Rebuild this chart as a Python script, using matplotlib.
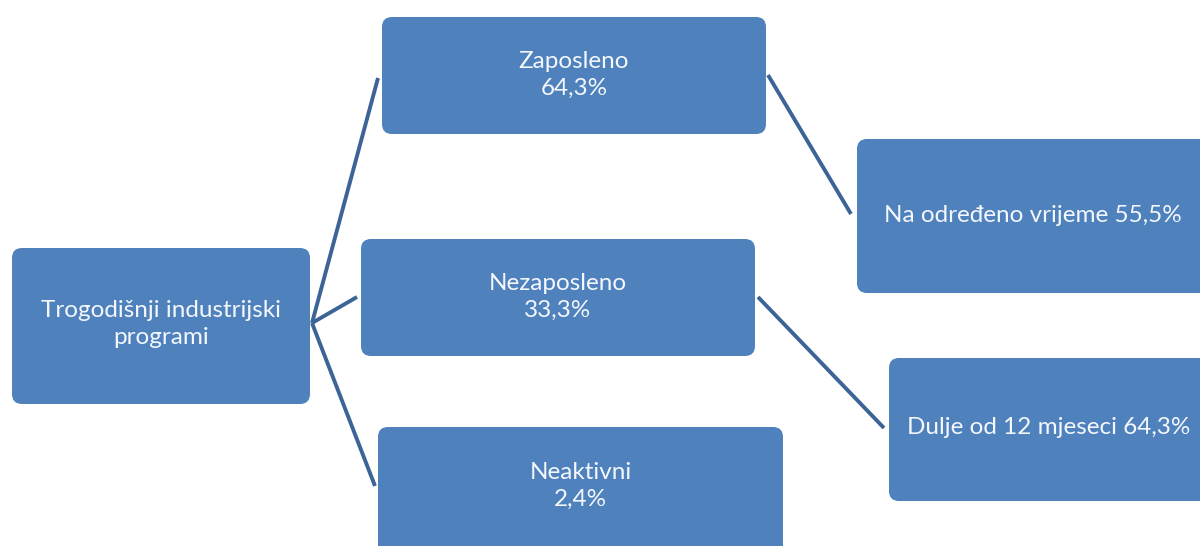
import matplotlib
matplotlib.use("Agg")
import matplotlib.pyplot as plt
from matplotlib.patches import FancyBboxPatch

root_label = "Trogodišnji industrijski\nprogrami"
status_labels = ["Zaposleno", "Nezaposleno", "Neaktivni"]
status_values = [64.3, 33.3, 2.4]
detail_labels = ["Na određeno vrijeme", "Dulje od 12 mjeseci"]
detail_values = [55.5, 64.3]
detail_parent = [0, 1]

def fmt(v):
    return f"{v:.1f}".replace(".", ",") + "%"

plt.rcParams['font.family'] = ['Lato', 'DejaVu Sans']

W, H = 1200, 546
fig = plt.figure(figsize=(12, 5.46), dpi=100)
ax = fig.add_axes([0, 0, 1, 1])
ax.set_xlim(0, W)
ax.set_ylim(H, 0)
ax.axis('off')

BOX = "#4F81BD"
LINE = "#3C6496"
TXT = "#F4F7FC"
FS = 17.5
LS = 1.38

def box(x0, y0, x1, y1):
    r = 10
    p = FancyBboxPatch((x0 + r, y0 + r), (x1 - x0) - 2 * r, (y1 - y0) - 2 * r,
                       boxstyle=f"round,pad={r},rounding_size={r}",
                       fc=BOX, ec="none", zorder=2)
    ax.add_patch(p)

def line(p0, p1):
    ax.plot([p0[0], p1[0]], [p0[1], p1[1]], color=LINE, lw=2.8,
            solid_capstyle='butt', zorder=1)

# layout (pixel geometry)
root_box = (12, 248, 310, 404)
status_boxes = [(382, 17, 766, 134), (361, 239, 755, 356), (378, 427, 783, 560)]
status_text_y = [75, 297, 486]
detail_boxes = [(857, 139, 1215, 293), (889, 358, 1215, 501)]
detail_text = [(1033, 215), (1049, 428)]

# connector lines
root_anchor = (312, 323)
status_anchor_left = [(378, 78), (357, 297), (375, 486)]
status_anchor_right = {0: (768, 75), 1: (758, 297)}
detail_anchor = [(851, 214), (884, 428)]

for a in status_anchor_left:
    line(root_anchor, a)
for i, p in enumerate(detail_parent):
    line(status_anchor_right[p], detail_anchor[i])

box(*root_box)
ax.text((root_box[0] + root_box[2]) / 2, 324, root_label, ha='center', va='center',
        color=TXT, fontsize=FS, linespacing=LS, zorder=3)

for b, ty, lab, v in zip(status_boxes, status_text_y, status_labels, status_values):
    box(*b)
    ax.text((b[0] + b[2]) / 2, ty, f"{lab}\n{fmt(v)}", ha='center', va='center',
            color=TXT, fontsize=FS, linespacing=LS, zorder=3)

for b, (tx, ty), lab, v in zip(detail_boxes, detail_text, detail_labels, detail_values):
    box(*b)
    ax.text(tx, ty, f"{lab} {fmt(v)}", ha='center', va='center',
            color=TXT, fontsize=FS, zorder=3)

fig.savefig("out.png", dpi=100, facecolor="white")
